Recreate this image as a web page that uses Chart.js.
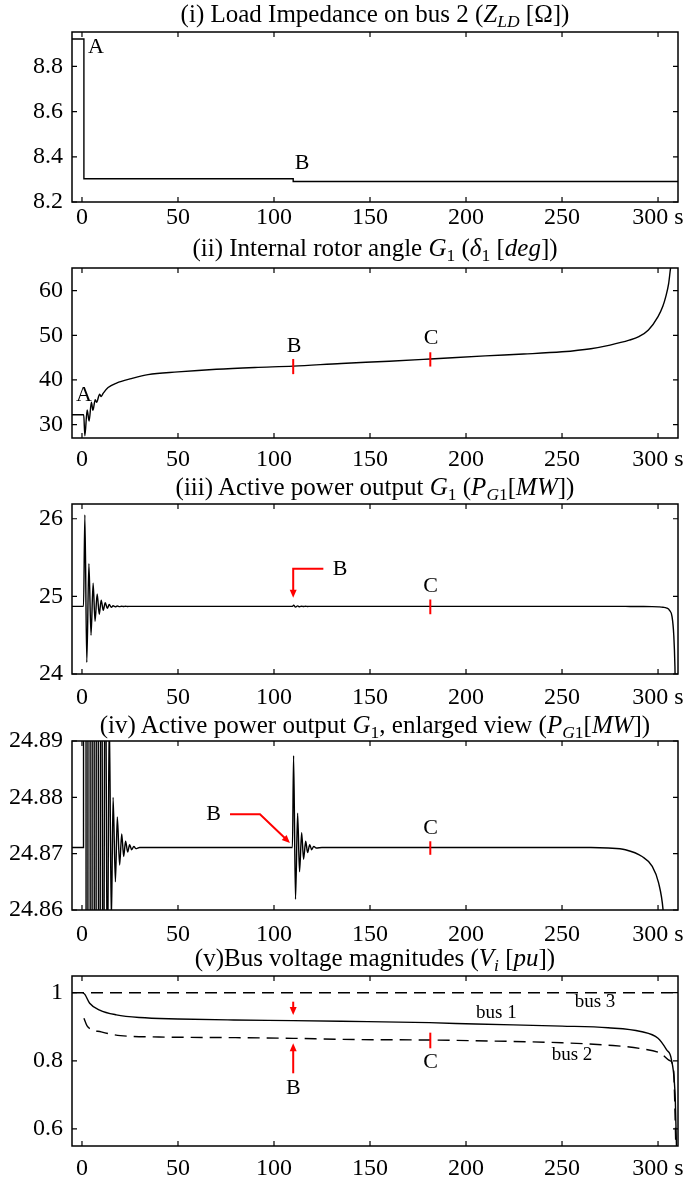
<!DOCTYPE html>
<html>
<head>
<meta charset="utf-8">
<title>Load impedance, rotor angle, active power and bus voltages</title>
<script src="https://cdn.jsdelivr.net/npm/chart.js"></script>
<style>
  body { margin: 0; background: #fff; }
  #page { position: relative; width: 684px; height: 1182px; overflow: hidden; background: #fff; }
  .panel { position: absolute; left: 0; width: 684px; }
  .title {
    position: absolute; left: 72px; width: 606px; text-align: center;
    font: 25px "Liberation Serif", "Times New Roman", serif; line-height: 26px;
    white-space: nowrap; color: #000; z-index: 2;
  }
  .title sub { font-size: 70%; vertical-align: -0.3em; line-height: 0; }
</style>
</head>
<body>
<div id="page">
  <div class="title" style="top:1px">(i) Load Impedance on bus 2 (<i>Z</i><sub><i>LD</i></sub> [Ω])</div>
  <div class="title" style="top:235px">(ii) Internal rotor angle <i>G</i><sub>1</sub> (<i>δ</i><sub>1</sub> [<i>deg</i>])</div>
  <div class="title" style="top:474px">(iii) Active power output <i>G</i><sub>1</sub> (<i>P</i><sub><i>G</i>1</sub>[<i>MW</i>])</div>
  <div class="title" style="top:712px">(iv) Active power output <i>G</i><sub>1</sub>, enlarged view (<i>P</i><sub><i>G</i>1</sub>[<i>MW</i>])</div>
  <div class="title" style="top:945px">(v)Bus voltage magnitudes (<i>V<sub>i</sub></i> [<i>pu</i>])</div>

  <div class="panel" id="p1"><canvas id="c1"></canvas></div>
  <div class="panel" id="p2"><canvas id="c2"></canvas></div>
  <div class="panel" id="p3"><canvas id="c3"></canvas></div>
  <div class="panel" id="p4"><canvas id="c4"></canvas></div>
  <div class="panel" id="p5"><canvas id="c5"></canvas></div>
</div>

<script>
// ---- data ----
const xMin = -5.2;
const xMax = 310.4;
const xTicks = [0, 50, 100, 150, 200, 250, 300];
const xLabels = ["0", "50", "100", "150", "200", "250", "300 s"];

// (i) load impedance
const zTime = [-5.2, 1.0, 1.0, 110, 110, 310.4];
const zValue = [8.921, 8.921, 8.303, 8.303, 8.291, 8.291];
const zTicks = [8.2, 8.4, 8.6, 8.8];
const zLabels = ["8.2", "8.4", "8.6", "8.8"];

// (ii) rotor angle
const angleTime = [-5.2, 0.9, 1.5, 2.7, 3.7, 4.9, 5.7, 6.9, 7.6, 9.2, 10.0, 11.0, 13.6, 18, 25.7, 34.4,
  50, 70, 90, 110, 135, 160, 181.4, 210, 230, 250, 265, 275, 285, 290, 295, 300, 302.5, 304, 305.5, 306.5, 307.5];
const angleValue = [32.2, 32.2, 27.5, 33.3, 30.8, 35.0, 33.2, 35.6, 35.0, 36.8, 36.3, 37.0, 38.3, 39.3, 40.3, 41.2,
  41.8, 42.4, 42.8, 43.1, 43.7, 44.2, 44.7, 45.4, 45.8, 46.3, 47.0, 47.8, 48.9, 49.7, 51.2, 54.2, 56.5, 58.6, 61.5, 65, 68];
const angleTicks = [30, 40, 50, 60];
const angleLabels = ["30", "40", "50", "60"];

// (iii) and (iv) active power of G1 (same signal, two zoom levels)
const powerTime = [-5.2, 0.8, 1.5, 2.5, 3.6, 4.7, 5.8, 6.8, 7.9, 9.0,
  10.0, 11.1, 12.1, 13.2, 14.2, 15.3, 16.2, 17.4, 18.4, 19.6,
  20.7, 21.7, 22.7, 23.8, 24.8, 25.9, 27.0, 28.0, 30.0, 60,
  109.6, 110.2, 111.2, 112.3, 113.3, 114.4, 115.4, 116.5, 117.5, 118.6,
  119.6, 120.7, 122, 125, 180, 220, 250, 265, 274, 283,
  291.7, 296.9, 300.3, 302.6, 304.5, 306, 307.3, 308.2, 308.8, 309.2];
const powerValue = [24.8711, 24.8711, 26.05, 24.15, 25.42, 24.50, 25.17, 24.68, 25.03, 24.77,
  24.95, 24.82, 24.92, 24.845, 24.895, 24.858, 24.880, 24.865, 24.8765, 24.868,
  24.8735, 24.8695, 24.8722, 24.8703, 24.8716, 24.8707, 24.8713, 24.8709, 24.8711, 24.8711,
  24.8711, 24.8874, 24.8619, 24.8772, 24.8668, 24.8737, 24.8690, 24.8722, 24.8702, 24.8716,
  24.8707, 24.8713, 24.8710, 24.8711, 24.8711, 24.8711, 24.8711, 24.8711, 24.8710, 24.8707,
  24.8695, 24.8678, 24.8648, 24.8601, 24.85, 24.82, 24.74, 24.5, 24.1, 23.5];
const powerTicks = [24, 25, 26];
const powerLabels = ["24", "25", "26"];
const zoomTicks = [24.86, 24.87, 24.88, 24.89];
const zoomLabels = ["24.86", "24.87", "24.88", "24.89"];

// (v) bus voltages
const bus1Time = [0.5, 1.5, 4, 9.2, 17.9, 30, 50, 79, 110, 135, 181, 205, 250, 274, 291, 300, 304.5, 307, 309, 309.8];
const bus1Value = [1.0, 0.995, 0.969, 0.949, 0.935, 0.927, 0.923, 0.920, 0.918, 0.916, 0.912, 0.908, 0.902, 0.897, 0.886, 0.866, 0.832, 0.803, 0.685, 0.5];
const bus2Time = [1, 3, 10, 20, 40, 80, 110, 135, 181, 205, 250, 274, 291, 301.6, 306, 308, 309.5];
const bus2Value = [0.925, 0.900, 0.885, 0.874, 0.870, 0.868, 0.866, 0.863, 0.861, 0.859, 0.853, 0.846, 0.836, 0.821, 0.801, 0.78, 0.5];
const bus3Time = [-5.2, 310.4];
const bus3Value = [1.0, 1.0];
const voltTicks = [0.6, 0.8, 1];
const voltLabels = ["0.6", "0.8", "1"];

// ---- markers (data units) ----
const notes1 = [
  { text: "A", x: 7.3, y: 8.883 },
  { text: "B", x: 114.6, y: 8.37 },
];
const notes2 = [
  { text: "A", x: 1.0, y: 36.5 },
  { text: "B", x: 110.4, y: 47.6 },
  { line: [[110, 44.7], [110, 41.3]] },
  { text: "C", x: 181.8, y: 49.4 },
  { line: [[181.4, 46.2], [181.4, 43.0]] },
];
const notes3 = [
  { line: [[125.7, 25.355], [110, 25.355], [110, 24.983]], arrow: true },
  { text: "B", x: 134.4, y: 25.355 },
  { line: [[181.4, 24.96], [181.4, 24.77]] },
  { text: "C", x: 181.6, y: 25.128 },
];
const notes4 = [
  { text: "B", x: 68.6, y: 24.877 },
  { line: [[77.1, 24.877], [92.7, 24.877], [108.3, 24.8719]], arrow: true },
  { line: [[181.4, 24.8722], [181.4, 24.8698]] },
  { text: "C", x: 181.6, y: 24.8746 },
];
const notes5 = [
  { line: [[110, 0.9736], [110, 0.9345]], arrow: true },
  { line: [[110, 0.7634], [110, 0.8514]], arrow: true },
  { text: "B", x: 110.1, y: 0.7185 },
  { line: [[181.4, 0.8827], [181.4, 0.8368]] },
  { text: "C", x: 181.6, y: 0.7947 },
  { text: "bus 3", x: 267.2, y: 0.9736, size: 19 },
  { text: "bus 1", x: 215.8, y: 0.9394, size: 19 },
  { text: "bus 2", x: 255.2, y: 0.8172, size: 19 },
];

const SERIF = '"Liberation Serif", "Times New Roman", serif';
Chart.defaults.font.family = SERIF;
Chart.defaults.font.size = 24;
Chart.defaults.color = "#000";

function points(xs, ys) {
  return xs.map((x, i) => ({ x: x, y: ys[i] }));
}

// frame round the plot area and inward ticks on all four sides
const framePlugin = {
  id: "frame",
  afterDatasetsDraw(chart) {
    const { ctx, chartArea: a, scales } = chart;
    ctx.save();
    ctx.strokeStyle = "#000";
    ctx.lineWidth = 1.5;
    ctx.strokeRect(a.left, a.top, a.right - a.left, a.bottom - a.top);
    ctx.lineWidth = 1.2;
    ctx.beginPath();
    scales.x.ticks.forEach((t) => {
      const px = scales.x.getPixelForValue(t.value);
      ctx.moveTo(px, a.bottom); ctx.lineTo(px, a.bottom - 5);
      ctx.moveTo(px, a.top); ctx.lineTo(px, a.top + 5);
    });
    scales.y.ticks.forEach((t) => {
      const py = scales.y.getPixelForValue(t.value);
      ctx.moveTo(a.left, py); ctx.lineTo(a.left + 5, py);
      ctx.moveTo(a.right, py); ctx.lineTo(a.right - 5, py);
    });
    ctx.stroke();
    ctx.restore();
  },
};

// letters, red ticks and arrows
function notesPlugin(items) {
  return {
    id: "notes",
    afterDraw(chart) {
      const { ctx, scales } = chart;
      const px = (v) => scales.x.getPixelForValue(v);
      const py = (v) => scales.y.getPixelForValue(v);
      ctx.save();
      items.forEach((it) => {
        if (it.text) {
          ctx.fillStyle = "#000";
          ctx.font = (it.size || 22) + "px " + SERIF;
          ctx.textAlign = "center";
          ctx.textBaseline = "middle";
          ctx.fillText(it.text, px(it.x), py(it.y));
          return;
        }
        const pts = it.line.map((p) => [px(p[0]), py(p[1])]);
        const n = pts.length;
        let end = pts[n - 1];
        let ang = 0;
        if (it.arrow) {
          const prev = pts[n - 2];
          ang = Math.atan2(end[1] - prev[1], end[0] - prev[0]);
          end = [end[0] - Math.cos(ang) * 6, end[1] - Math.sin(ang) * 6];
        }
        ctx.strokeStyle = "#ff0000";
        ctx.lineWidth = 2;
        ctx.beginPath();
        ctx.moveTo(pts[0][0], pts[0][1]);
        for (let i = 1; i < n - 1; i++) ctx.lineTo(pts[i][0], pts[i][1]);
        ctx.lineTo(end[0], end[1]);
        ctx.stroke();
        if (it.arrow) {
          const tip = pts[n - 1];
          ctx.fillStyle = "#ff0000";
          ctx.beginPath();
          ctx.moveTo(tip[0], tip[1]);
          ctx.lineTo(tip[0] - Math.cos(ang) * 8 + Math.sin(ang) * 3.5, tip[1] - Math.sin(ang) * 8 - Math.cos(ang) * 3.5);
          ctx.lineTo(tip[0] - Math.cos(ang) * 8 - Math.sin(ang) * 3.5, tip[1] - Math.sin(ang) * 8 + Math.cos(ang) * 3.5);
          ctx.closePath();
          ctx.fill();
        }
      });
      ctx.restore();
    },
  };
}

function makePanel(n, box, datasets, yRange, yTicks, yLabels, notes, labelPad) {
  const holder = document.getElementById("p" + n);
  const h = box[1] - box[0];
  holder.style.top = box[0] - 16 + "px";
  holder.style.height = h + 16 + 36 + "px";

  new Chart(document.getElementById("c" + n), {
    type: "line",
    data: { datasets: datasets },
    options: {
      responsive: true,
      maintainAspectRatio: false,
      animation: false,
      layout: { padding: { top: 16, right: 6, bottom: 0, left: 0 } },
      elements: { point: { radius: 0 } },
      plugins: { legend: { display: false }, tooltip: { enabled: false } },
      scales: {
        x: {
          type: "linear", min: xMin, max: xMax,
          grid: { display: false, drawTicks: false },
          border: { display: false },
          afterBuildTicks: (s) => { s.ticks = xTicks.map((v) => ({ value: v })); },
          afterFit: (s) => { s.height = 36; s.paddingLeft = 0; s.paddingRight = 0; },
          ticks: { autoSkip: false, maxRotation: 0, padding: labelPad, callback: (v, i) => xLabels[i] },
        },
        y: {
          type: "linear", min: yRange[0], max: yRange[1],
          grid: { display: false, drawTicks: false },
          border: { display: false },
          afterBuildTicks: (s) => { s.ticks = yTicks.map((v) => ({ value: v })); },
          afterFit: (s) => { s.width = 72; s.paddingTop = 0; s.paddingBottom = 0; },
          ticks: { autoSkip: false, padding: 9, callback: (v, i) => yLabels[i] },
        },
      },
    },
    plugins: [framePlugin, notesPlugin(notes)],
  });
}

function series(xs, ys, extra) {
  return Object.assign({
    data: points(xs, ys),
    borderColor: "#000",
    borderWidth: 1.4,
    fill: false,
    tension: 0,
  }, extra || {});
}

const smooth = { cubicInterpolationMode: "monotone" };

makePanel(1, [32, 202], [series(zTime, zValue)], [8.2, 8.952], zTicks, zLabels, notes1, 1);

makePanel(2, [268, 438], [series(angleTime, angleValue, smooth)],
  [27, 65.07], angleTicks, angleLabels, notes2, 7);

makePanel(3, [504, 674], [series(powerTime, powerValue, smooth)], [24, 26.19], powerTicks, powerLabels, notes3, 9);

makePanel(4, [741, 910], [series(powerTime, powerValue, smooth)], [24.86, 24.89], zoomTicks, zoomLabels, notes4, 10);

makePanel(5, [976, 1146], [
  series(bus3Time, bus3Value, { borderDash: [12, 7] }),
  series(bus1Time, bus1Value, smooth),
  series(bus2Time, bus2Value, Object.assign({ borderDash: [12, 7] }, smooth)),
], [0.55, 1.049], voltTicks, voltLabels, notes5, 8);
</script>
</body>
</html>
